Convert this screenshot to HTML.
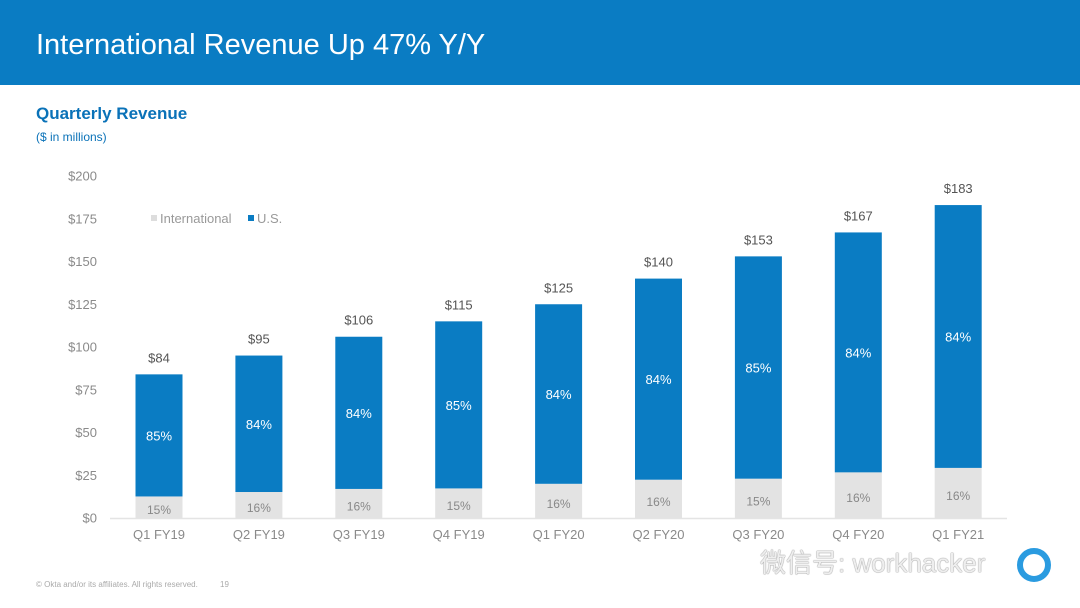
<!DOCTYPE html>
<html><head><meta charset="utf-8"><style>
body{margin:0;width:1080px;height:608px;background:#fff;font-family:"Liberation Sans",sans-serif;overflow:hidden;position:relative}
.hdr{position:absolute;left:0;top:0;width:1080px;height:85px;background:#0a7cc3}
.hdr h1{margin:0;position:absolute;left:36px;top:29px;font-weight:normal;font-size:29px;color:#fff}
.sub{position:absolute;left:36px;top:104px;font-size:17px;font-weight:bold;color:#0a72b8}
.sub2{position:absolute;left:36px;top:130px;font-size:12px;color:#0a72b8}
.foot{position:absolute;left:36px;top:580px;font-size:8px;color:#aaa}
.wm{position:absolute;left:760px;top:543px;font-size:26px;color:#eee;text-shadow:0 0 1px #888,0 0 1px #888;font-family:"Liberation Sans","Noto Sans CJK SC",sans-serif}
</style></head><body>
<div class="hdr"><h1>International Revenue Up 47% Y/Y</h1></div>
<div class="sub">Quarterly Revenue</div>
<div class="sub2">($ in millions)</div>
<svg id="chart" width="1080" height="608" style="position:absolute;left:0;top:0"></svg>
<div class="foot">© Okta and/or its affiliates. All rights reserved. &nbsp;&nbsp;&nbsp;&nbsp;&nbsp;&nbsp;&nbsp;&nbsp;&nbsp;19</div>
<div class="wm">微信号: workhacker</div>
<div style="position:absolute;left:1017px;top:548px;width:22px;height:22px;border:6px solid #2a9be0;border-radius:50%"></div>
<script>
const categories=["Q1 FY19","Q2 FY19","Q3 FY19","Q4 FY19","Q1 FY20","Q2 FY20","Q3 FY20","Q4 FY20","Q1 FY21"];
const totals=[84,95,106,115,125,140,153,167,183];
const intlValues=[12.6,15.2,17,17.3,20,22.4,23,26.7,29.3];
const usPct=["85%","84%","84%","85%","84%","84%","85%","84%","84%"];
const intlPct=["15%","16%","16%","15%","16%","16%","15%","16%","16%"];
const yTicks=[0,25,50,75,100,125,150,175,200];
const svg=document.getElementById('chart');
const NS="http://www.w3.org/2000/svg";
const y=v=>518-v*1.71;
const x=i=>159+i*99.9;
const bw=47;
function mk(t,a,txt){const e=document.createElementNS(NS,t);for(const k in a)e.setAttribute(k,a[k]);if(txt!==undefined)e.textContent=txt;svg.appendChild(e);return e;}
yTicks.forEach(v=>{
 const e=mk('text',{x:97,y:y(v)+4.5,'text-anchor':'end','font-size':13,fill:'#8a8a8a'},'$'+v);
 
 
});
const ax=mk('line',{x1:110,x2:1007,y1:518.5,y2:518.5,stroke:'#e4e4e4','stroke-width':1.5});


categories.forEach((c,i)=>{
 const cx=x(i),t=totals[i],n=intlValues[i];
 const r1=mk('rect',{x:cx-bw/2,y:y(n),width:bw,height:y(0)-y(n),fill:'#e3e3e3'});
 
 
 const r2=mk('rect',{x:cx-bw/2,y:y(t),width:bw,height:y(n)-y(t),fill:'#0a7cc3'});
 
 
 const l1=mk('text',{x:cx,y:y(t)-12,'text-anchor':'middle','font-size':13,fill:'#555'},'$'+t);
 
 
 const l2=mk('text',{x:cx,y:(y(t)+y(n))/2+5,'text-anchor':'middle','font-size':13,fill:'#fff'},usPct[i]);
 
 
 const l3=mk('text',{x:cx,y:(y(n)+y(0))/2+7,'text-anchor':'middle','font-size':12,fill:'#888'},intlPct[i]);
 
 
 const l4=mk('text',{x:cx,y:539,'text-anchor':'middle','font-size':13,fill:'#8a8a8a'},c);
 
 
});
const g1=mk('rect',{x:151,y:215,width:6,height:6,fill:'#ddd'});


const g2=mk('text',{x:160,y:223,'font-size':13,fill:'#999'},'International');


const g3=mk('rect',{x:248,y:215,width:6,height:6,fill:'#0a7cc3'});


const g4=mk('text',{x:257,y:223,'font-size':13,fill:'#999'},'U.S.');


</script>
</body></html>
